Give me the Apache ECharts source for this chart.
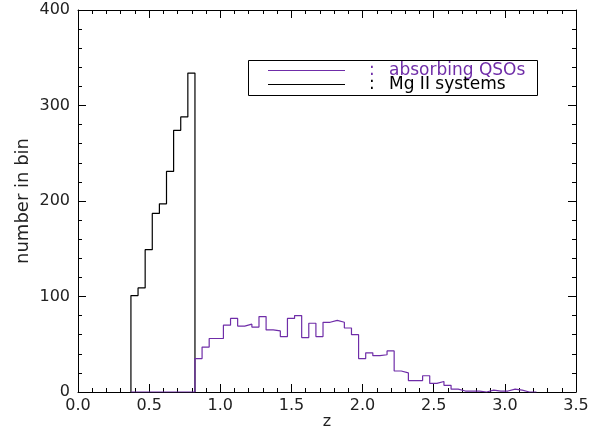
<!DOCTYPE html>
<html>
<head>
<meta charset="utf-8">
<script src="https://cdn.jsdelivr.net/npm/echarts@6/dist/echarts.min.js"></script>
<style>
  html, body { margin: 0; padding: 0; background: #fff; }
  #chart { width: 598px; height: 428px; }
</style>
</head>
<body>
<div id="chart"></div>
<script>
// histogram bins (z)
const zStart = 0.372
const binWidth = 0.05

// Mg II systems
const mgCounts = [101, 109, 149, 187, 197, 231, 274, 288, 334]

// absorbing QSOs (same binning, starts at zStart)
const qsoCounts = [
  0, 0, 0, 0, 0, 0, 0, 0, 0,
  35, 47, 56, 56, 70, 77, 69, 71, 68, 79, 65, 64, 58, 77, 80, 57, 72, 58, 73, 75, 73, 67, 60,
  35, 41, 38, 39, 43, 22, 20, 12, 12, 17, 9, 11, 7, 3, 1, 1, 1, 0, 2, 1, 1, 3, 2, 0, 0
]

const xTicks = ['0.0', '0.5', '1.0', '1.5', '2.0', '2.5', '3.0', '3.5']

const purple = '#6f2da8'
const font = 'DejaVu Sans'

// turn counts into step points (left edges), closing down to the baseline
function stepPoints (counts) {
  let pts = [[zStart, 0]]
  counts.forEach((c, i) => {
    pts.push([+(zStart + i * binWidth).toFixed(4), c])
  })
  pts.push([+(zStart + counts.length * binWidth).toFixed(4), 0])
  return pts
}

const axisLine = { show: true, onZero: false, lineStyle: { color: '#000', width: 1 } }
const tick = { show: true, inside: true, length: 8, lineStyle: { color: '#000' } }
const minor = { show: true, splitNumber: 5, length: 4, lineStyle: { color: '#000' } }

const chart = echarts.init(document.getElementById('chart'))
chart.setOption({
  animation: false,
  grid: { left: 78, right: 22, top: 10, bottom: 36, containLabel: false, outerBoundsMode: 'none' },
  xAxis: [
    {
      type: 'value', min: 0, max: 3.5, interval: 0.5,
      axisLine: axisLine, axisTick: tick, minorTick: minor,
      splitLine: { show: false },
      axisLabel: {
        color: '#222', fontFamily: font, fontSize: 16, margin: 6,
        formatter: (v) => xTicks[Math.round(v / 0.5)]
      },
      name: 'z', nameLocation: 'middle', nameGap: 22, nameMoveOverlap: false,
      nameTextStyle: { color: '#222', fontFamily: font, fontSize: 16 }
    },
    {
      type: 'value', position: 'top', min: 0, max: 3.5, interval: 0.5,
      axisLine: axisLine, axisTick: tick, minorTick: minor,
      splitLine: { show: false }, axisLabel: { show: false }
    }
  ],
  yAxis: [
    {
      type: 'value', min: 0, max: 400, interval: 100,
      axisLine: axisLine, axisTick: tick, minorTick: minor,
      splitLine: { show: false },
      axisLabel: { color: '#222', fontFamily: font, fontSize: 16, margin: 8 },
      name: 'number in bin', nameLocation: 'middle', nameGap: 46, nameMoveOverlap: false,
      nameTextStyle: { color: '#222', fontFamily: font, fontSize: 18 }
    },
    {
      type: 'value', position: 'right', min: 0, max: 400, interval: 100,
      axisLine: axisLine, axisTick: tick, minorTick: minor,
      splitLine: { show: false }, axisLabel: { show: false }
    }
  ],
  series: [
    {
      name: 'Mg II systems',
      type: 'line',
      step: 'end',
      symbol: 'none',
      lineStyle: { color: '#000', width: 1.2 },
      data: stepPoints(mgCounts)
    },
    {
      name: 'absorbing QSOs',
      type: 'line',
      step: 'end',
      symbol: 'none',
      lineStyle: { color: purple, width: 1.2 },
      data: stepPoints(qsoCounts)
    }
  ],
  graphic: [
    {
      type: 'rect',
      shape: { x: 248.5, y: 60.5, width: 289, height: 35 },
      style: { fill: '#fff', stroke: '#000', lineWidth: 1 }
    },
    {
      type: 'line',
      shape: { x1: 268, y1: 70.5, x2: 345, y2: 70.5 },
      style: { stroke: purple, lineWidth: 1.2 }
    },
    {
      type: 'line',
      shape: { x1: 268, y1: 84.5, x2: 345, y2: 84.5 },
      style: { stroke: '#000', lineWidth: 1.2 }
    },
    { type: 'text', left: 369, top: 62, style: { text: ':', fill: purple, font: '17px "DejaVu Sans"' } },
    { type: 'text', left: 389, top: 62, style: { text: 'absorbing QSOs', fill: purple, font: '17px "DejaVu Sans"' } },
    { type: 'text', left: 369, top: 76, style: { text: ':', fill: '#000', font: '17px "DejaVu Sans"' } },
    { type: 'text', left: 389, top: 76, style: { text: 'Mg II systems', fill: '#000', font: '17px "DejaVu Sans"' } }
  ]
})
</script>
</body>
</html>
